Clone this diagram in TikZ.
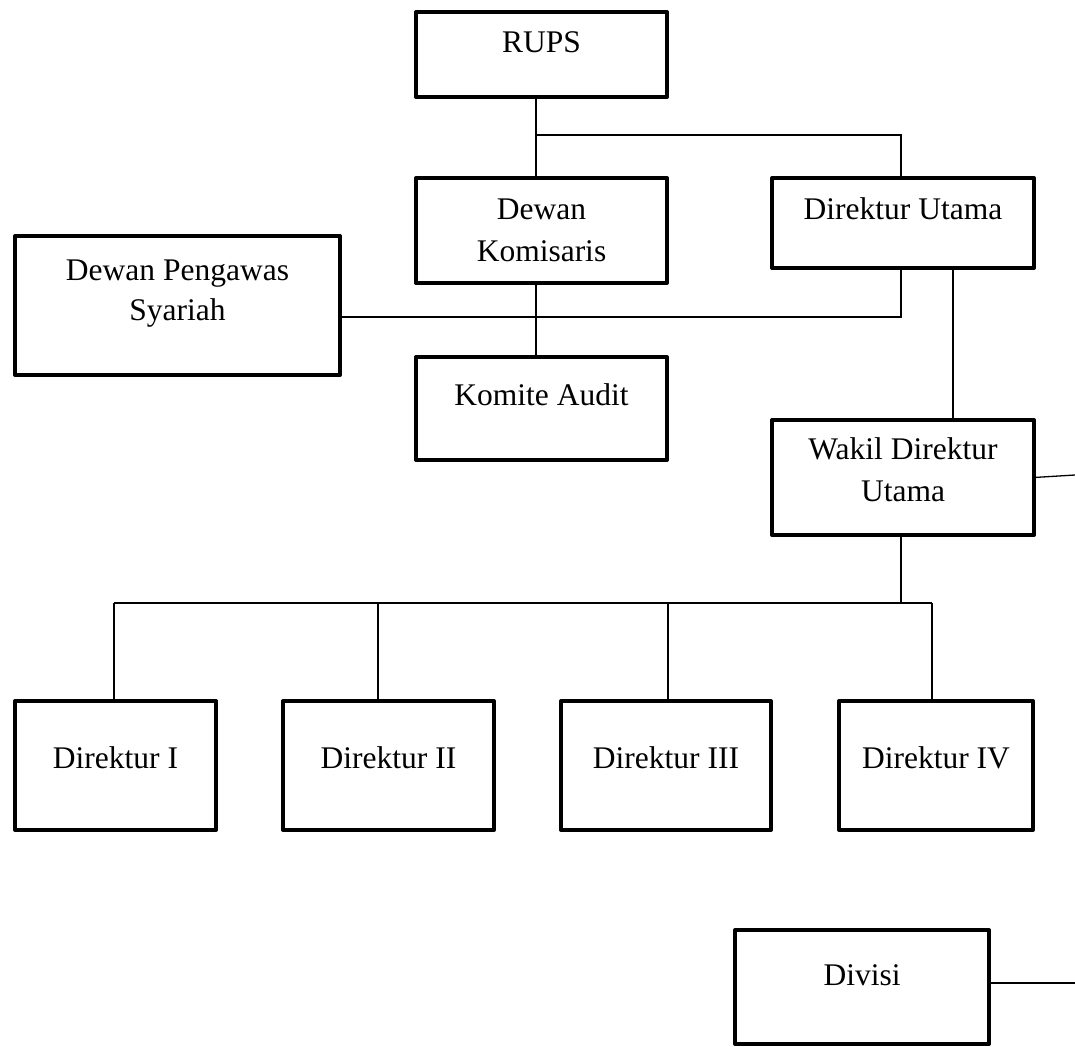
\documentclass[tikz,border=0pt]{standalone}
\usepackage{fontspec}
\setmainfont{Liberation Serif}
\begin{document}
\begin{tikzpicture}[x=1pt,y=1pt,
  box/.style={draw, line width=4pt, line join=round, inner sep=0pt, outer sep=0pt},
  conn/.style={line width=1.3pt},
  lbl/.style={anchor=base, inner sep=0pt, font=\fontsize{31.5}{40}\selectfont}]
\useasboundingbox (0,0) rectangle (1075,-1046);
% boxes (centre-line coordinates)
\node[box, minimum width=251pt, minimum height=85pt]  (rups) at (541.5,-54.5) {};
\node[box, minimum width=251pt, minimum height=105pt] (dk)   at (541.5,-230.5) {};
\node[box, minimum width=262pt, minimum height=90pt]  (du)   at (903,-223) {};
\node[box, minimum width=325pt, minimum height=139pt] (dps)  at (177.5,-305.5) {};
\node[box, minimum width=251pt, minimum height=103pt] (ka)   at (541.5,-408.5) {};
\node[box, minimum width=262pt, minimum height=115pt] (wk)   at (903,-477.5) {};
\node[box, minimum width=201pt, minimum height=129pt] (d1)   at (115.5,-765.5) {};
\node[box, minimum width=211pt, minimum height=129pt] (d2)   at (388.5,-765.5) {};
\node[box, minimum width=210pt, minimum height=129pt] (d3)   at (666,-765.5) {};
\node[box, minimum width=194pt, minimum height=129pt] (d4)   at (936,-765.5) {};
\node[box, minimum width=254pt, minimum height=114pt] (dv)   at (862,-987) {};
% labels
\node[lbl] (rupsT) at (541.5,-53) {RUPS};
\node[lbl] (dkT1) at (541.5,-219) {Dewan};
\node[lbl] (dkT2) at (541.5,-261) {Komisaris};
\node[lbl] (duT) at (903,-219) {Direktur Utama};
\node[lbl] (dpsT1) at (177.5,-280) {Dewan Pengawas};
\node[lbl] (dpsT2) at (177.5,-320) {Syariah};
\node[lbl] (kaT) at (541.5,-405) {Komite Audit};
\node[lbl] (wkT1) at (903,-459) {Wakil Direktur};
\node[lbl] (wkT2) at (903,-501) {Utama};
\node[lbl] (d1T) at (115.5,-768) {Direktur I};
\node[lbl] (d2T) at (388.5,-768) {Direktur II};
\node[lbl] (d3T) at (666,-768) {Direktur III};
\node[lbl] (d4T) at (936,-768) {Direktur IV};
\node[lbl] (dvT) at (862,-985) {Divisi};
% junction coordinates
\coordinate (j1) at (536,-135);
\coordinate (j2) at (901,-135);
\coordinate (j3) at (901,-317);
\coordinate (j4) at (953,-350);
\coordinate (j5) at (901,-603);
\coordinate (h1) at (114,-603);
\coordinate (h2) at (378,-603);
\coordinate (h3) at (668,-603);
\coordinate (h4) at (932,-603);
\coordinate (e1) at (1075,-475);
\coordinate (e2) at (1075,-983);
% connectors
\draw[conn] (rups.south -| j1) -- (dk.north -| j1);
\draw[conn] (j1) -- (j2) -- (du.north -| j2);
\draw[conn] (dk.south -| j1) -- (ka.north -| j1);
\draw[conn] (dps.east |- j3) -- (j3) -- (du.south -| j3);
\draw[conn] (du.south -| j4) -- (wk.north -| j4);
\draw[conn] (wk.south -| j5) -- (j5);
\draw[conn] (h1) -- (h4);
\draw[conn] (h1) -- (d1.north -| h1);
\draw[conn] (h2) -- (d2.north -| h2);
\draw[conn] (h3) -- (d3.north -| h3);
\draw[conn] (h4) -- (d4.north -| h4);
\draw[conn] (wk.east) -- (e1);
\draw[conn] (dv.east |- e2) -- (e2);
\end{tikzpicture}
\end{document}
